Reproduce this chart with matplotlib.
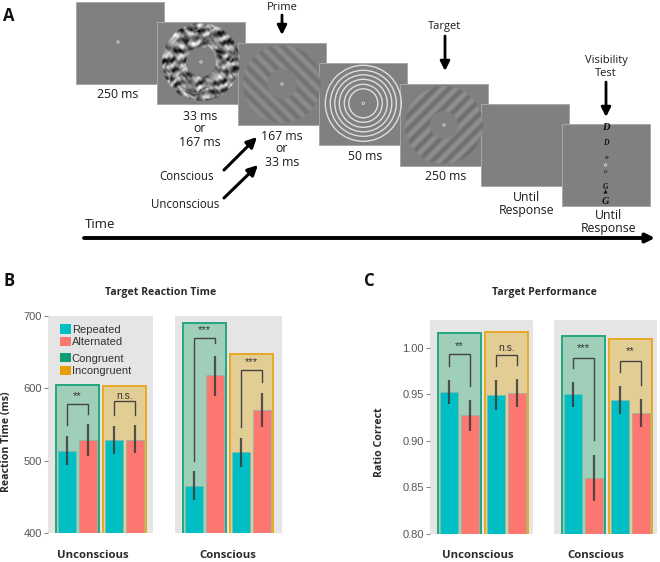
import numpy as np
import matplotlib
matplotlib.use("Agg")
import matplotlib.pyplot as plt
from matplotlib.patches import Rectangle, Circle, Patch, Polygon

W, H = 660, 562
TEXT_FONT = "Open Sans"
TICK_FONT = "Liberation Sans"

# ---------- data: panel B ----------
conditions = ["Unconscious", "Conscious"]
rt_box = [[605, 603], [691, 648]]
rt_means = [[514, 528, 528, 529], [465, 618, 512, 570]]
rt_low = [[494, 507, 509, 510], [445, 590, 491, 547]]
rt_high = [[534, 551, 548, 549], [486, 645, 532, 594]]
rt_bracket_top = [[579, 583], [670, 626]]
rt_bracket_left = [[549, 563], [500, 547]]
rt_bracket_right = [[565, 563], [662, 609]]
rt_sig = [["**", "n.s."], ["***", "***"]]
rt_sig_y = [[590, 590], [682, 637]]
rt_ticks = [400, 500, 600, 700]

# ---------- data: panel C ----------
acc_box = [[1.016, 1.0176], [1.013, 1.010]]
acc_means = [[.953, .928, .949, .952], [.950, .860, .944, .930]]
acc_low = [[.940, .911, .933, .936], [.936, .835, .929, .915]]
acc_high = [[.966, .944, .965, .967], [.963, .885, .9595, .9455]]
acc_bracket_top = [[.993, .992], [.989, .986]]
acc_bracket_left = [[.981, .981], [.978, .974]]
acc_bracket_right = [[.959, .982], [.901, .960]]
acc_sig = [["**", "n.s."], ["***", "**"]]
acc_sig_y = [[1.003, 1.000], [1.001, .998]]
acc_ticks = [.80, .85, .90, .95, 1.00]

# ---------- schematic: panel A ----------
frames_x = [76, 157, 238, 319, 400, 481, 562]
frames_y = [2, 22, 43, 63, 84, 104, 124]
frame_w, frame_h = 87.5, 82
frame_labels = [
    ("250 ms", 118, 95), ("33 ms\nor\n167 ms", 200, 129), ("167 ms\nor\n33 ms", 282, 149),
    ("50 ms", 365, 157), ("250 ms", 446, 177), ("Until\nResponse", 527, 204),
    ("Until\nResponse", 609, 222),
]
cue_labels = [("Prime", 282, 7, 8.0), ("Target", 445, 27, 8.0), ("Visibility\nTest", 606, 67, 8.0),
              ("Conscious", 187, 177, 8.3), ("Unconscious", 185, 204, 8.3), ("Time", 100, 224, 9.6)]
down_arrows = [(282, 15, 35), (445, 36, 71), (606, 82, 117)]
diag_arrows = [(224, 170, 257, 137), (224, 198, 258, 165)]
noise_levels = np.array([
    [.5, .3, .2, .6, .8, .7, .3, .2, .4, .8, .9, .5, .2, .3, .7, .6],
    [.7, .8, .3, .2, .5, .9, .6, .1, .2, .6, .8, .3, .1, .4, .8, .4],
    [.3, .9, .7, .2, .1, .6, .8, .4, .6, .9, .5, .2, .5, .9, .6, .2],
    [.1, .6, .9, .5, .3, .2, .7, .9, .8, .3, .1, .3, .8, .7, .2, .1],
    [.2, .3, .6, .8, .7, .1, .2, .6, .4, .1, .4, .9, .6, .2, .4, .7],
    [.8, .5, .1, .3, .9, .6, .5, .5, .5, .5, .8, .7, .1, .3, .9, .8],
    [.9, .7, .2, .1, .6, .8, .5, .5, .5, .5, .6, .2, .2, .8, .7, .3],
    [.4, .2, .6, .8, .3, .2, .5, .5, .5, .5, .1, .4, .9, .6, .1, .2],
    [.1, .4, .9, .7, .2, .1, .5, .5, .5, .5, .3, .8, .7, .2, .3, .8],
    [.6, .8, .5, .2, .4, .8, .6, .2, .3, .9, .7, .2, .1, .5, .9, .6],
    [.9, .6, .1, .3, .9, .7, .2, .1, .7, .8, .3, .1, .6, .9, .4, .2],
    [.3, .2, .4, .8, .6, .2, .4, .9, .8, .2, .2, .7, .9, .3, .1, .5],
    [.1, .5, .9, .6, .1, .3, .9, .7, .3, .1, .6, .9, .4, .2, .7, .8],
    [.6, .9, .4, .2, .5, .8, .6, .1, .4, .8, .7, .2, .1, .6, .9, .4],
    [.8, .3, .1, .6, .9, .4, .2, .3, .9, .5, .2, .4, .8, .7, .2, .3],
    [.4, .2, .7, .8, .3, .1, .6, .8, .6, .1, .3, .9, .5, .2, .5, .6],
])
ring_radii = [14.5, 19, 24, 28.5, 33, 38]
letter_items = [("D", 128, 7.5), ("D", 143, 5.5), ("D", 158, 3.5),
                ("G", 172, 3.5), ("G", 187, 5.5), ("G", 202, 7.5)]

# ---------- figure ----------
fig = plt.figure(figsize=(W / 100, H / 100), dpi=100, facecolor="white")
px = fig.add_axes([0, 0, 1, 1], zorder=5)
px.set_xlim(0, W); px.set_ylim(H, 0); px.axis("off"); px.patch.set_alpha(0)

GRAY = "#808080"
for i, (fx, fy) in enumerate(zip(frames_x, frames_y)):
    px.add_patch(Rectangle((fx, fy), frame_w, frame_h, fc=GRAY, ec="#a8a8a8", lw=.7, zorder=2 + i * .1))

def disc_image(cx, cy, r, hole, fn, z):
    n = int(2 * r) * 3
    xs = np.linspace(-r, r, n)
    xx, yy = np.meshgrid(xs, xs)
    rr = np.hypot(xx, yy)
    val = fn(xx, yy)
    rgba = np.zeros((n, n, 4))
    rgba[..., :3] = np.clip(val, 0, 1)[..., None]
    rgba[..., 3] = np.clip(r - rr + .5, 0, 1) * np.clip(rr - hole + .5, 0, 1)
    px.imshow(rgba, extent=(cx - r, cx + r, cy + r, cy - r), zorder=z,
              interpolation="bilinear", aspect="auto")

def sample(u, v):
    s = noise_levels.shape[0] - 1
    u = np.mod(u, s - 1e-6); v = np.mod(v, s - 1e-6)
    i0 = u.astype(int); j0 = v.astype(int)
    fu = u - i0; fv = v - j0
    fu = fu * fu * (3 - 2 * fu); fv = fv * fv * (3 - 2 * fv)
    a = noise_levels[j0, i0] * (1 - fu) + noise_levels[j0, i0 + 1] * fu
    b = noise_levels[j0 + 1, i0] * (1 - fu) + noise_levels[j0 + 1, i0 + 1] * fu
    return a * (1 - fv) + b * fv

def noise(xx, yy):
    a = sample(8 + xx / 4.2 + .7 * np.sin(yy / 3.7), 8 + yy / 4.2 + .7 * np.sin(xx / 4.3))
    b = sample(3 + (xx * .8 + yy * .6) / 3.4, 5 + (yy * .8 - xx * .6) / 3.4)
    return .5 + 1.45 * ((a + b) / 2 - .5)

def grating(sign, amp):
    def f(xx, yy):
        return .5 + amp * np.sin(2 * np.pi * (xx + sign * yy) / 14.0)
    return f

disc_image(201, 62, 39, 15, noise, 2.2)
disc_image(282, 84, 39, 15, grating(-1, .055), 2.3)
disc_image(444, 125, 39, 14, grating(1, .07), 2.5)
for r in ring_radii:
    px.add_patch(Circle((363.3, 103.3), r, fc="none", ec="#dedede", lw=1.0, zorder=2.4))
for cx, cy in [(118, 42), (201, 62), (282, 84), (363.3, 103.3), (444, 125), (605.5, 165)]:
    px.add_patch(Circle((cx, cy), 1.2, fc="none", ec="#d8d8d8", lw=.6, zorder=3))
for s, y, sz in letter_items:
    px.text(605.5, y, s, family="Liberation Serif", style="italic", weight="bold",
            fontsize=sz, ha="center", va="center", color="#111111", zorder=4)
px.add_patch(Polygon([[603.5, 193.5], [607.5, 193.5], [605.5, 189.5]], fc="#111111", ec="none", zorder=4))

for s, x, y in frame_labels:
    px.text(x, y, s, family=TEXT_FONT, fontsize=8.8, weight="medium", ha="center", va="center",
            color="#1a1a1a", linespacing=1.0, zorder=6)
for s, x, y, sz in cue_labels:
    px.text(x, y, s, family=TEXT_FONT, fontsize=sz, weight="medium", ha="center", va="center",
            color="#1a1a1a", linespacing=1.2, zorder=6)

def arrow(x0, y0, x1, y1, lw, ms):
    px.annotate("", xy=(x1, y1), xytext=(x0, y0), zorder=6,
                arrowprops=dict(arrowstyle="-|>", lw=lw, color="black", mutation_scale=ms,
                                shrinkA=0, shrinkB=0))

for x, y0, y1 in down_arrows:
    arrow(x, y0, x, y1, 2.0, 14)
for x0, y0, x1, y1 in diag_arrows:
    arrow(x0, y0, x1, y1, 2.2, 15)
arrow(84, 238, 655, 238, 2.8, 13)

for s, x, y in [("A", 9, 16), ("B", 9, 281), ("C", 369, 281)]:
    px.text(x, y, s, family=TEXT_FONT, fontsize=12, weight="bold", ha="center", va="center", color="#111111")
label_style = dict(family=TEXT_FONT, fontsize=7.6, weight="bold", ha="center", va="center", color="#2a2a2a")
px.text(161, 292, "Target Reaction Time", **label_style)
px.text(544, 292, "Target Performance", **label_style)
px.text(7, 442, "Reaction Time (ms)", rotation=90, **label_style)
px.text(379, 442, "Ratio Correct", rotation=90, **label_style)
for s, x in [("Unconscious", 93), ("Conscious", 228), ("Unconscious", 478), ("Conscious", 596)]:
    px.text(x, 556, s, family=TEXT_FONT, fontsize=8.2, weight="bold", ha="center", va="center", color="#2a2a2a")

# ---------- charts ----------
TEAL, RED = "#00bfc4", "#fb7770"
GREEN_E, ORANGE_E = "#23a77f", "#e8a824"
GREEN_F, ORANGE_F = "#9fcfb9", "#e2cd95"
PANEL = "#e5e5e5"
bar_x = [1, 2, 3.24, 4.24]
box_x = [1.5, 3.74]
bar_cols = [TEAL, RED, TEAL, RED]

def facet(x0, x1, y0, y1, ylim, box, means, low, high, b_top, b_l, b_r, sig, sig_y, ticks, fmt):
    ax = fig.add_axes([x0 / W, 1 - y1 / H, (x1 - x0) / W, (y1 - y0) / H], facecolor=PANEL)
    ax.set_xlim(1 - 19 / 21, 1 + (x1 - x0 - 19) / 21)
    ax.set_ylim(*ylim)
    for s in ax.spines.values():
        s.set_visible(False)
    ax.set_xticks([])
    if ticks:
        ax.set_yticks(ticks)
        ax.set_yticklabels([fmt % t for t in ticks], family=TICK_FONT, fontsize=8, color="#555555")
        ax.tick_params(axis="y", length=3, width=.8, color="#888888", pad=1.5)
    else:
        ax.set_yticks([])
    ax.bar(box_x, box, width=2.08, bottom=0, color=[GREEN_F, ORANGE_F],
           edgecolor=[GREEN_E, ORANGE_E], lw=1.4, zorder=2)
    ax.bar(bar_x, means, width=.88, color=bar_cols, edgecolor="#8fb5a8", lw=.5, zorder=3)
    ax.vlines(bar_x, low, high, color="#3a3a3a", lw=1.6, alpha=.85, zorder=4)
    for k in range(2):
        xl, xr = bar_x[2 * k], bar_x[2 * k + 1]
        ax.plot([xl, xl, xr, xr], [b_l[k], b_top[k], b_top[k], b_r[k]],
                color="#444444", lw=1.0, zorder=4, solid_joinstyle="miter")
        is_ns = sig[k] == "n.s."
        ax.text(box_x[k], sig_y[k], sig[k], family=TICK_FONT, fontsize=7.5 if is_ns else 8,
                ha="center", va="center" if is_ns else "center_baseline", color="#333333", zorder=5)
    return ax

B_y = (316, 533)
first = None
for i, x0 in enumerate([48, 175]):
    a = facet(x0, x0 + 105 + (2 if i else 0), *B_y, (400, 700), rt_box[i], rt_means[i], rt_low[i], rt_high[i],
              rt_bracket_top[i], rt_bracket_left[i], rt_bracket_right[i], rt_sig[i], rt_sig_y[i],
              rt_ticks if i == 0 else None, "%d")
    if i == 0:
        first = a

legend_a = first.legend(handles=[Patch(fc=TEAL, label="Repeated"), Patch(fc=RED, label="Alternated")],
                        loc="upper left", bbox_to_anchor=(.114, .963), frameon=False, borderpad=0,
                        borderaxespad=0, handlelength=.95, handleheight=.95, handletextpad=.1,
                        labelspacing=.18, prop=dict(family=TICK_FONT, size=8))
for t in legend_a.get_texts():
    t.set_color("#333333")
first.add_artist(legend_a)
legend_b = first.legend(handles=[Patch(fc="#0f9e73", label="Congruent"), Patch(fc="#e69f00", label="Incongruent")],
                        loc="upper left", bbox_to_anchor=(.114, .83), frameon=False, borderpad=0,
                        borderaxespad=0, handlelength=.95, handleheight=.95, handletextpad=.1,
                        labelspacing=.18, prop=dict(family=TICK_FONT, size=8))
for t in legend_b.get_texts():
    t.set_color("#333333")

C_top = 1.0 + 28 / 46.4 * .05
for i, x0 in enumerate([430, 554]):
    facet(x0, x0 + 103, 320, 534, (.7995, C_top), acc_box[i], acc_means[i], acc_low[i], acc_high[i],
          acc_bracket_top[i], acc_bracket_left[i], acc_bracket_right[i], acc_sig[i], acc_sig_y[i],
          acc_ticks if i == 0 else None, "%.2f")

fig.savefig("out.png", dpi=100)
